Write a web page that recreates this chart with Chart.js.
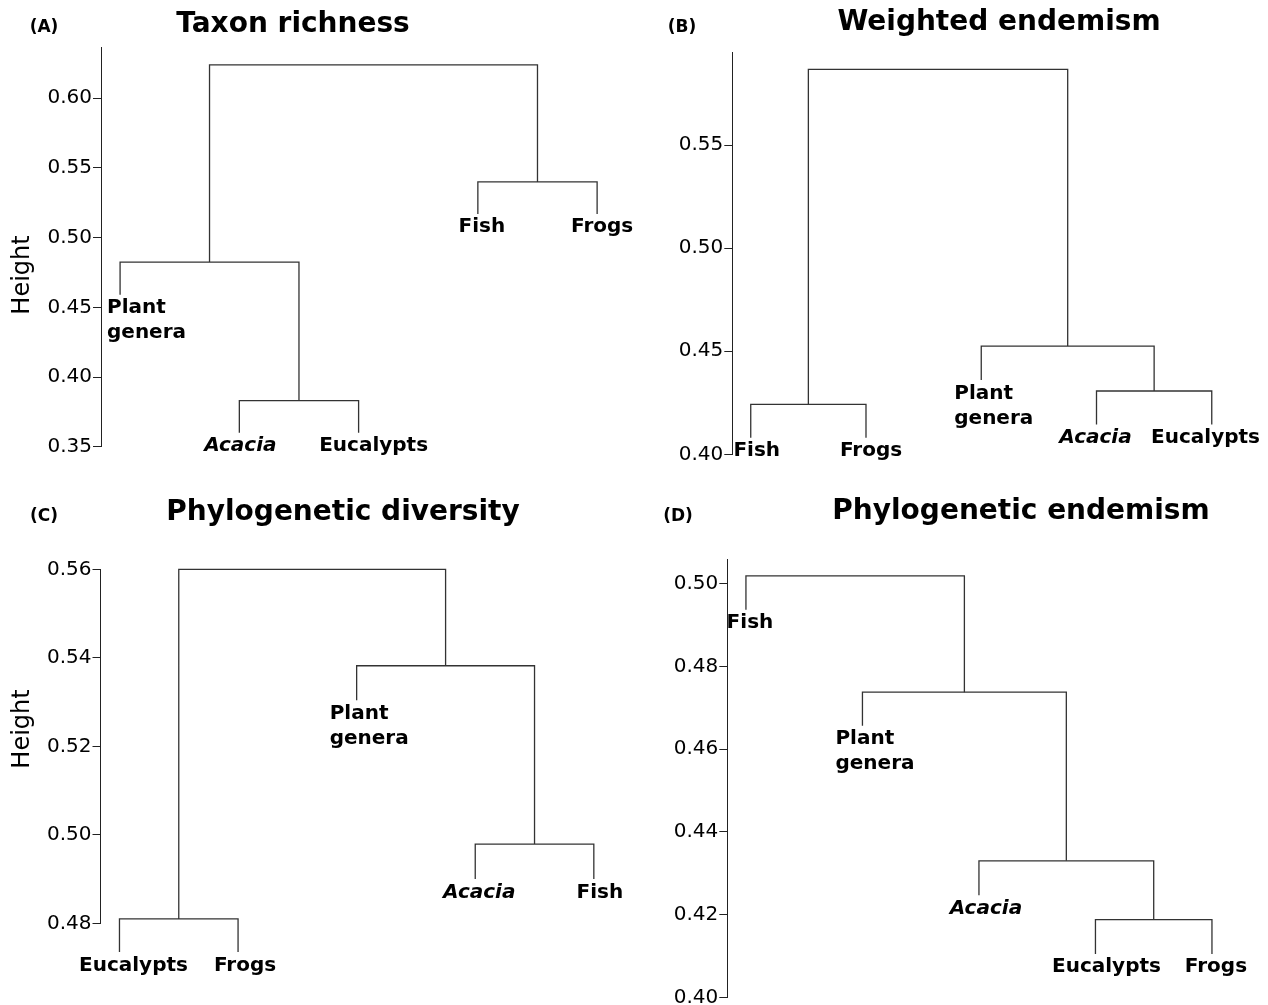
<!DOCTYPE html>
<html lang="en">
<head>
    <meta charset="UTF-8">
    <title>Dendrograms</title>
    <script src="https://cdn.jsdelivr.net/npm/chart.js@4.4.0/dist/chart.umd.min.js"></script>
</head>
<style>
    html, body {
        margin: 0;
        padding: 0;
        background: #fff;
        overflow: hidden;
    }

    #wrap {
        position: relative;
        width: 1268px;
        height: 1005px;
        overflow: hidden;
    }

    #wrap canvas {
        position: absolute;
        left: 0;
        top: 0;
    }
</style>
<body>
    <div id="wrap">
        <canvas id="chartA" width="1268" height="1040"></canvas>
        <canvas id="chartB" width="1268" height="1040"></canvas>
        <canvas id="chartC" width="1268" height="1040"></canvas>
        <canvas id="chartD" width="1268" height="1040"></canvas>
    </div>

    <script>
        // leaves left to right, height where each leaf line ends,
        // merges as [left, right, height] (negative = leaf number, positive = earlier merge)
        const leavesA = ['Plant genera', 'Acacia', 'Eucalypts', 'Fish', 'Frogs']
        const tipsA   = [0.459, 0.360, 0.360, 0.517, 0.517]
        const mergesA = [[-2, -3, 0.383], [-1, 1, 0.4825], [-4, -5, 0.540], [2, 3, 0.624]]
        const ticksA  = [0.35, 0.40, 0.45, 0.50, 0.55, 0.60]

        const leavesB = ['Fish', 'Frogs', 'Plant genera', 'Acacia', 'Eucalypts']
        const tipsB   = [0.408, 0.408, 0.436, 0.4145, 0.4145]
        const mergesB = [[-1, -2, 0.4242], [-4, -5, 0.4307], [-3, 2, 0.4525], [1, 3, 0.5867]]
        const ticksB  = [0.40, 0.45, 0.50, 0.55]

        const leavesC = ['Eucalypts', 'Frogs', 'Plant genera', 'Acacia', 'Fish']
        const tipsC   = [0.4735, 0.4735, 0.5304, 0.490, 0.490]
        const mergesC = [[-1, -2, 0.4810], [-4, -5, 0.4979], [-3, 2, 0.5382], [1, 3, 0.5600]]
        const ticksC  = [0.48, 0.50, 0.52, 0.54, 0.56]

        const leavesD = ['Fish', 'Plant genera', 'Acacia', 'Eucalypts', 'Frogs']
        const tipsD   = [0.4937, 0.4657, 0.4247, 0.4105, 0.4105]
        const mergesD = [[-4, -5, 0.4188], [-3, 1, 0.4330], [-2, 2, 0.4738], [-1, 3, 0.5019]]
        const ticksD  = [0.40, 0.42, 0.44, 0.46, 0.48, 0.50]

        const W = 1268, H = 1040, AXIS_W = 70
        const FONT = '"DejaVu Sans", "Liberation Sans", sans-serif'

        // one U shape per merge, like plot.hclust
        const segments = (tips, merges) => {
            const done = []
            const node = (i) => i < 0 ? { x: -i, h: tips[-i - 1] } : done[i - 1]
            return merges.map(([a, b, h]) => {
                const l = node(a), r = node(b)
                done.push({ x: (l.x + r.x) / 2, h: h })
                return [{ x: l.x, y: l.h }, { x: l.x, y: h }, { x: r.x, y: h }, { x: r.x, y: r.h }]
            })
        }

        const panelText = (p) => ({
            id: 'panelText',
            afterDraw(chart) {
                const ctx = chart.ctx
                const xs = chart.scales.x, ys = chart.scales.y
                ctx.save()
                ctx.fillStyle = '#000'

                ctx.font = `bold 17px ${FONT}`
                ctx.textAlign = 'center'
                ctx.textBaseline = 'middle'
                ctx.fillText(p.letter, p.letterX, p.letterY)

                ctx.font = `bold 28px ${FONT}`
                ctx.textBaseline = 'alphabetic'
                ctx.fillText(p.title, p.titleX, p.titleY)

                if (p.ylabelY) {
                    ctx.save()
                    ctx.translate(23, p.ylabelY)
                    ctx.rotate(-Math.PI / 2)
                    ctx.font = `24px ${FONT}`
                    ctx.textBaseline = 'middle'
                    ctx.fillText('Height', 0, 0)
                    ctx.restore()
                }

                // leaf names sit just under the end of each leaf line
                p.leaves.forEach((name, i) => {
                    const px = xs.getPixelForValue(i + 1)
                    const py = ys.getPixelForValue(p.tips[i]) + 18.5
                    ctx.font = (name === 'Acacia' ? 'italic ' : '') + `bold 20px ${FONT}`
                    const lines = name.split(' ')
                    if (lines.length > 1) {
                        ctx.textAlign = 'left'
                        const left = Math.max(px - 27, chart.chartArea.left + 6)
                        lines.forEach((t, k) => ctx.fillText(t, left, py + k * 25))
                    } else {
                        ctx.textAlign = 'center'
                        const half = ctx.measureText(name).width / 2
                        const cx = Math.min(px + 4 + (p.nudge[i] || 0), W - 8 - half)
                        ctx.fillText(name, cx, py)
                    }
                })
                ctx.restore()
            }
        })

        const drawPanel = (id, p) => {
            const a = p.area
            new Chart(id, {
                type: 'scatter',
                data: {
                    datasets: segments(p.tips, p.merges).map(s => ({
                        data: s,
                        showLine: true,
                        borderColor: '#333',
                        borderWidth: 1.3,
                        pointRadius: 0,
                        tension: 0,
                        clip: false
                    }))
                },
                options: {
                    responsive: false,
                    animation: false,
                    events: [],
                    layout: {
                        padding: { left: a.left - AXIS_W, top: a.top, right: W - a.right, bottom: H - a.bottom }
                    },
                    plugins: {
                        legend: { display: false },
                        tooltip: { enabled: false }
                    },
                    scales: {
                        x: { type: 'linear', display: false, min: 0.84, max: 5.16 },
                        y: {
                            type: 'linear',
                            min: p.yMin,
                            max: p.yMax,
                            afterFit: (s) => { s.width = AXIS_W },
                            afterBuildTicks: (s) => { s.ticks = p.ticks.map(v => ({ value: v })) },
                            ticks: {
                                callback: (v) => Number(v).toFixed(2),
                                font: { family: FONT, size: 20 },
                                color: '#000',
                                padding: 1,
                                autoSkip: false
                            },
                            grid: { drawOnChartArea: false, tickLength: 8, color: '#222', lineWidth: 1 },
                            border: { color: '#222', width: 1 }
                        }
                    }
                },
                plugins: [panelText(p)]
            })
        }

        drawPanel('chartA', {
            leaves: leavesA, tips: tipsA, merges: mergesA, ticks: ticksA,
            yMin: 0.35, yMax: 0.6363,
            area: { left: 101, top: 47.7, right: 616.2, bottom: 446.7 },
            nudge: [0, -3, 11, 0, 1],
            letter: '(A)', letterX: 44, letterY: 28,
            title: 'Taxon richness', titleX: 293, titleY: 32,
            ylabelY: 275
        })

        drawPanel('chartB', {
            leaves: leavesB, tips: tipsB, merges: mergesB, ticks: ticksB,
            yMin: 0.40, yMax: 0.595,
            area: { left: 732.3, top: 52.3, right: 1230.2, bottom: 454.3 },
            nudge: [2, 1, 0, -5, 0],
            letter: '(B)', letterX: 682, letterY: 28,
            title: 'Weighted endemism', titleX: 999, titleY: 30
        })

        drawPanel('chartC', {
            leaves: leavesC, tips: tipsC, merges: mergesC, ticks: ticksC,
            yMin: 0.48, yMax: 0.56,
            area: { left: 100.5, top: 569.3, right: 612.8, bottom: 923.3 },
            nudge: [10, 3, 0, 0, 2],
            letter: '(C)', letterX: 44, letterY: 517,
            title: 'Phylogenetic diversity', titleX: 343, titleY: 520,
            ylabelY: 729
        })

        drawPanel('chartD', {
            leaves: leavesD, tips: tipsD, merges: mergesD, ticks: ticksD,
            yMin: 0.40, yMax: 0.506,
            area: { left: 727.3, top: 559, right: 1230.6, bottom: 997.3 },
            nudge: [0, 0, 3, 7, 0],
            letter: '(D)', letterX: 678, letterY: 517,
            title: 'Phylogenetic endemism', titleX: 1021, titleY: 519
        })
    </script>
</body>
</html>
